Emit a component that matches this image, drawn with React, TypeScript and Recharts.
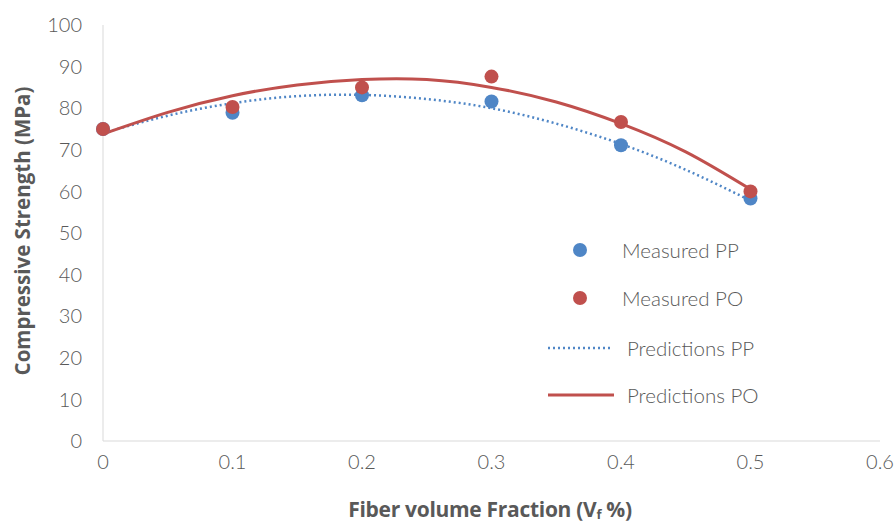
import { ComposedChart, Line, Scatter, XAxis, YAxis } from "recharts";

const fractions = [0, 0.1, 0.2, 0.3, 0.4, 0.5];
const measuredPP = [75, 78.9, 83.1, 81.6, 71.1, 58.3];
const measuredPO = [75, 80.3, 85.0, 87.6, 76.7, 60.0];

const curveFractions = [0, 0.05, 0.1, 0.15, 0.2, 0.25, 0.3, 0.35, 0.4, 0.45, 0.5];
const predictedPP = [74.0, 78.2, 81.2, 82.9, 83.2, 82.2, 80.0, 76.3, 71.4, 65.2, 57.8];
const predictedPO = [73.8, 79.0, 83.0, 85.6, 86.9, 86.9, 85.0, 81.5, 76.3, 69.5, 60.5];

const xTicks = [0, 0.1, 0.2, 0.3, 0.4, 0.5, 0.6];
const yTicks = [0, 10, 20, 30, 40, 50, 60, 70, 80, 90, 100];

const BLUE = "#4f86c6";
const RED = "#c0504d";
const GREY = "#595959";
const FONT = "Lato, 'Open Sans', sans-serif";
const BOLD = "'Open Sans', sans-serif";

const ppPoints = fractions.map((x, i) => ({ x, y: measuredPP[i] }));
const poPoints = fractions.map((x, i) => ({ x, y: measuredPO[i] }));
const ppCurve = curveFractions.map((x, i) => ({ x, y: predictedPP[i] }));
const poCurve = curveFractions.map((x, i) => ({ x, y: predictedPO[i] }));

const tickStyle = { fill: GREY, fontSize: 20, fontFamily: FONT, fontWeight: 300 };

// legend drawn by hand to mimic the Excel layout
function LegendBox() {
  const text = { fontFamily: FONT, fontSize: 20.5, fontWeight: 300, fill: GREY };
  return (
    <svg width={280} height={180} style={{ position: "absolute", left: 540, top: 238 }}>
      <circle cx={40} cy={12} r={7} fill={BLUE} />
      <text x={82} y={12} dominantBaseline="central" style={text}>Measured PP</text>
      <circle cx={40} cy={60} r={7} fill={RED} />
      <text x={82} y={60} dominantBaseline="central" style={text}>Measured PO</text>
      <line x1={8} x2={70} y1={110} y2={110} stroke={BLUE} strokeWidth={2.5} strokeDasharray="2 3" />
      <text x={87} y={110} dominantBaseline="central" style={text}>Predictions PP</text>
      <line x1={8} x2={74} y1={157} y2={157} stroke={RED} strokeWidth={3} />
      <text x={87} y={157} dominantBaseline="central" style={text}>Predictions PO</text>
    </svg>
  );
}

export default function App() {
  return (
    <div style={{ position: "absolute", left: 0, top: 0, width: 896, height: 522, background: "#fff" }}>
      <ComposedChart
        width={896}
        height={522}
        margin={{ top: 25, right: 16, bottom: 21, left: 43 }}
      >
        <XAxis
          type="number"
          dataKey="x"
          domain={[0, 0.6]}
          ticks={xTicks}
          interval={0}
          height={60}
          tickSize={0}
          tickMargin={14}
          stroke="#d9d9d9"
          tick={tickStyle}
        />
        <YAxis
          type="number"
          dataKey="y"
          domain={[0, 100]}
          ticks={yTicks}
          interval={0}
          width={60}
          tickSize={0}
          tickMargin={21}
          stroke="#d9d9d9"
          tick={tickStyle}
        />
        <Scatter name="Measured PP" data={ppPoints} fill={BLUE} shape={(p: any) => <circle cx={p.cx} cy={p.cy} r={7} fill={BLUE} />} isAnimationActive={false} />
        <Scatter name="Measured PO" data={poPoints} fill={RED} shape={(p: any) => <circle cx={p.cx} cy={p.cy} r={7} fill={RED} />} isAnimationActive={false} />
        <Line
          name="Predictions PP"
          data={ppCurve}
          dataKey="y"
          type="natural"
          stroke={BLUE}
          strokeWidth={2.5}
          strokeDasharray="2 3"
          dot={false}
          activeDot={false}
          isAnimationActive={false}
        />
        <Line
          name="Predictions PO"
          data={poCurve}
          dataKey="y"
          type="natural"
          stroke={RED}
          strokeWidth={3}
          dot={false}
          activeDot={false}
          isAnimationActive={false}
        />
      </ComposedChart>
      <svg width={896} height={522} style={{ position: "absolute", left: 0, top: 0, pointerEvents: "none" }}>
        <text
          x={490}
          y={509}
          textAnchor="middle"
          dominantBaseline="central"
          style={{ fontFamily: BOLD, fontWeight: 700, fontSize: 21, fill: GREY, letterSpacing: -0.3 }}
        >
          Fiber volume Fraction (V<tspan fontSize={13} dy={5}>f</tspan><tspan dy={-5}> %)</tspan>
        </text>
        <text
          x={22}
          y={231}
          transform="rotate(-90 22 231)"
          textAnchor="middle"
          dominantBaseline="central"
          style={{ fontFamily: BOLD, fontWeight: 700, fontSize: 20.5, fill: GREY }}
        >
          Compressive Strength (MPa)
        </text>
      </svg>
      <LegendBox />
    </div>
  );
}
